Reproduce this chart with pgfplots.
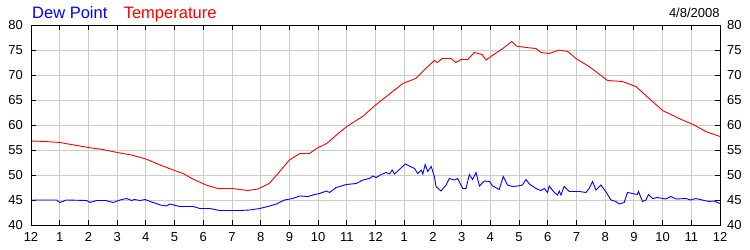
\documentclass[border=0pt]{standalone}
\usepackage{pgfplots}
\pgfplotsset{compat=1.18}
\usepackage{fontspec}
\setmainfont{Liberation Sans}
\definecolor{gridgray}{RGB}{204,204,204}
\definecolor{dewblue}{RGB}{0,0,255}
\definecolor{tempred}{RGB}{255,0,0}
\begin{document}
\begin{tikzpicture}
\pgfplotsset{
  base/.style={
    scale only axis, width=689bp, height=200bp,
    xmin=0, xmax=24, ymin=40, ymax=80,
    /pgf/number format/assume math mode=true,
    ticklabel style={font=\fontsize{13bp}{13bp}\selectfont, inner sep=0pt, text=black},
    tick align=inside, major tick length=5bp,
    tick style={black, line width=0.8bp},
    axis line style={black, line width=0.8bp},
  }
}
\begin{axis}[base,
  xtick={0,1,...,24},
  xticklabels={12,1,2,3,4,5,6,7,8,9,10,11,12,1,2,3,4,5,6,7,8,9,10,11,12},
  ytick={40,45,...,80},
  grid=major, grid style={gridgray, line width=0.8bp},
  xtick pos=both, xticklabel pos=bottom,
  ytick pos=both, yticklabel pos=left,
  xticklabel shift=7bp, yticklabel shift=8bp,
]
\addplot[tempred, line width=0.9bp] coordinates {
(0,56.8)(0.5,56.7)(1.0,56.5)(1.5,56.0)(2.0,55.5)(2.5,55.1)(3.0,54.5)(3.5,54.0)
(4.0,53.2)(4.5,52.0)(5.0,50.9)(5.3,50.3)(5.6,49.3)(6.1,48.0)(6.5,47.3)(7.0,47.3)
(7.55,46.9)(7.9,47.2)(8.3,48.3)(8.66,50.7)(9.0,53.0)(9.36,54.3)(9.7,54.3)(9.94,55.3)
(10.3,56.3)(10.7,58.3)(11.0,59.7)(11.55,61.7)(12.0,64.0)(12.4,65.8)(12.95,68.3)
(13.4,69.3)(13.75,71.3)(14.05,72.9)(14.15,72.5)(14.33,73.3)(14.63,73.3)(14.8,72.5)
(14.98,73.1)(15.21,73.1)(15.44,74.5)(15.71,74.1)(15.85,73.0)(16.02,73.7)(16.43,75.3)
(16.75,76.7)(16.9,75.8)(17.24,75.5)(17.59,75.3)(17.76,74.5)(18.05,74.3)(18.4,75.0)
(18.7,74.7)(18.98,73.3)(19.44,71.7)(19.9,69.7)(20.08,68.9)(20.6,68.7)(21.07,67.7)
(21.53,65.3)(22.0,62.9)(22.69,61.0)(23.1,60.0)(23.5,58.7)(24,57.7)
};
\addplot[dewblue, line width=0.9bp] coordinates {
(0,44.7)(0.08,45.0)(0.9,45.0)(1.0,44.5)(1.24,45.0)(1.94,44.9)(2.05,44.5)(2.29,44.9)
(2.6,44.9)(2.86,44.5)(3.1,45.0)(3.33,45.3)(3.5,44.9)(3.6,45.1)(3.8,44.9)(3.97,45.1)
(4.2,44.6)(4.37,44.3)(4.5,44.0)(4.72,43.8)(4.83,44.2)(5.18,43.7)(5.65,43.7)(5.88,43.3)
(6.23,43.3)(6.57,42.9)(7.27,42.9)(7.62,43.0)(7.97,43.3)(8.31,43.8)(8.55,44.2)(8.83,45.0)
(9.12,45.3)(9.36,45.8)(9.65,45.7)(9.82,46.0)(10.05,46.3)(10.29,46.8)(10.40,46.5)
(10.63,47.5)(10.81,47.8)(10.98,48.1)(11.33,48.3)(11.56,49.0)(11.79,49.3)(11.91,49.8)
(12.02,49.5)(12.20,50.1)(12.37,50.5)(12.49,50.2)(12.58,51.0)(12.66,50.2)(12.83,51.1)
(13.04,52.2)(13.18,51.8)(13.36,51.3)(13.47,50.3)(13.59,51.0)(13.65,50.2)(13.73,52.1)
(13.82,50.7)(13.94,51.7)(14.05,49.7)(14.11,47.7)(14.28,46.8)(14.46,48.0)(14.57,49.3)
(14.75,49.0)(14.86,49.3)(15.04,47.3)(15.15,47.3)(15.27,50.1)(15.38,49.1)(15.50,50.5)
(15.62,47.8)(15.79,48.8)(15.97,48.7)(16.08,47.8)(16.31,47.1)(16.45,49.7)(16.60,48.0)
(16.77,47.7)(16.95,47.8)(17.12,48.0)(17.24,49.1)(17.36,48.2)(17.59,47.3)(17.76,46.9)
(17.88,47.3)(17.99,46.5)(18.05,47.8)(18.23,46.5)(18.34,46.0)(18.40,46.8)(18.46,46.0)
(18.57,47.7)(18.75,46.7)(19.10,46.7)(19.33,46.5)(19.44,47.3)(19.56,48.7)(19.68,47.0)
(19.85,48.0)(20.02,46.7)(20.20,45.0)(20.37,44.7)(20.49,44.2)(20.66,44.5)(20.78,46.5)
(20.95,46.3)(21.12,46.1)(21.16,46.7)(21.30,44.7)(21.42,45.0)(21.51,46.1)(21.65,45.3)
(21.82,45.5)(22.11,45.2)(22.29,45.7)(22.46,45.2)(22.81,45.3)(22.98,45.0)(23.15,45.3)
(23.38,45.0)(23.62,44.7)(23.79,44.8)(24,44.3)
};
\end{axis}
\begin{axis}[base,
  xtick=\empty,
  ytick={40,45,...,80},
  ytick pos=right, yticklabel pos=right,
  yticklabel shift=7bp,
]
\end{axis}
\node[anchor=base west, inner sep=0pt, text=dewblue, font=\fontsize{16.5bp}{16.5bp}\selectfont]
  at ([shift={(1bp,6.7bp)}]current axis.north west) {Dew Point};
\node[anchor=base west, inner sep=0pt, text=tempred, font=\fontsize{16.5bp}{16.5bp}\selectfont]
  at ([shift={(92.6bp,6.7bp)}]current axis.north west) {Temperature};
\node[anchor=base east, inner sep=0pt, text=black, font=\fontsize{13bp}{13bp}\selectfont]
  at ([shift={(-0.2bp,7.7bp)}]current axis.north east) {4/8/2008};
\pgfresetboundingbox
\path[use as bounding box] ([shift={(-31bp,-25bp)}]current axis.south west) rectangle ++(750bp,250bp);
\end{tikzpicture}
\end{document}
